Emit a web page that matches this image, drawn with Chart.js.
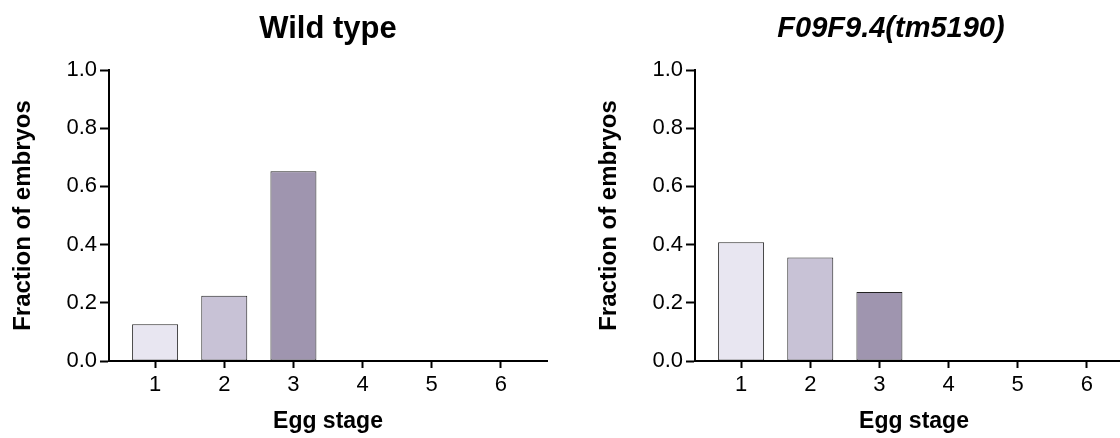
<!DOCTYPE html>
<html>
<head>
<meta charset="utf-8">
<script src="https://cdn.jsdelivr.net/npm/chart.js@4"></script>
<style>
  html, body { margin: 0; padding: 0; background: #fff; overflow: hidden; }
  #wrap { position: relative; width: 1120px; height: 438px; overflow: hidden; }
  canvas { position: absolute; top: 0; }
  #wt { left: 0; }
  #mut { left: 586px; }
</style>
</head>
<body>
<div id="wrap">
  <canvas id="wt" width="656" height="438"></canvas>
  <canvas id="mut" width="610" height="438"></canvas>
</div>
<script>
const stages = [1, 2, 3, 4, 5, 6];
const wildType = [0.126, 0.224, 0.652, 0, 0, 0];
const mutant = [0.408, 0.356, 0.237, 0, 0, 0];
const yTicks = [0, 0.2, 0.4, 0.6, 0.8, 1.0];
const barColors = ["#E8E6F1", "#C8C2D6", "#9F95AF", "#9F95AF", "#9F95AF", "#9F95AF"];

const FONT = "'Liberation Sans', Arial, Helvetica, sans-serif";

// nudge the title sideways (the right panel is cut off by the window edge)
const titleShift = {
  id: "titleShift",
  afterLayout(chart, args, opts) {
    const t = chart.titleBlock;
    if (t && opts.dx) {
      t.left += opts.dx;
      t.right += opts.dx;
    }
  },
};

function makeChart(id, title, italic, titleSize, values, padRight, dx) {
  const padTop = 11 + (31 - titleSize) * 0.5;
  return new Chart(document.getElementById(id), {
    type: "bar",
    data: {
      datasets: [
        {
          data: stages.map((s, i) => ({ x: s, y: values[i] })),
          backgroundColor: barColors,
          borderColor: "#222",
          borderWidth: 1,
          borderSkipped: false,
          categoryPercentage: 1,
          barPercentage: 0.665,
        },
      ],
    },
    plugins: [titleShift],
    options: {
      responsive: false,
      animation: false,
      layout: { padding: { left: 0, right: padRight, top: 0, bottom: 0 } },
      plugins: {
        legend: { display: false },
        tooltip: { enabled: false },
        titleShift: { dx: dx },
        title: {
          display: true,
          fullSize: false,
          text: title,
          color: "#000",
          font: { family: FONT, size: titleSize, weight: "bold", style: italic ? "italic" : "normal" },
          padding: { top: padTop, bottom: 70 - padTop - titleSize * 1.2 },
        },
      },
      scales: {
        x: {
          type: "linear",
          offset: false,
          min: 1 / 3,
          max: 6 + 2 / 3,
          afterBuildTicks: (scale) => {
            scale.ticks = stages.map((v) => ({ value: v }));
          },
          afterFit: (scale) => {
            scale.height = 77;
          },
          ticks: {
            color: "#000",
            font: { family: FONT, size: 22 },
            padding: 4,
            callback: (v) => String(v),
            maxRotation: 0,
          },
          grid: {
            display: true,
            offset: false,
            drawOnChartArea: false,
            drawTicks: true,
            tickLength: 7,
            tickWidth: 2,
            tickColor: "#000",
          },
          border: { display: true, color: "#000", width: 2, z: 1 },
          title: {
            display: true,
            text: "Egg stage",
            color: "#000",
            font: { family: FONT, size: 23, weight: "bold" },
            padding: { top: 0, bottom: 3 },
          },
        },
        y: {
          min: 0,
          max: 1,
          afterBuildTicks: (scale) => {
            scale.ticks = yTicks.map((v) => ({ value: v }));
          },
          afterFit: (scale) => {
            scale.width = 109;
          },
          ticks: {
            color: "#000",
            font: { family: FONT, size: 22 },
            padding: 3,
            callback: (v) => v.toFixed(1),
          },
          grid: {
            display: true,
            drawOnChartArea: false,
            drawTicks: true,
            tickLength: 9,
            tickWidth: 2,
            tickColor: "#000",
          },
          border: { display: true, color: "#000", width: 2, z: 1 },
          title: {
            display: true,
            text: "Fraction of embryos",
            color: "#000",
            font: { family: FONT, size: 24, weight: "bold" },
            padding: { top: 9, bottom: 0 },
          },
        },
      },
    },
  });
}

makeChart("wt", "Wild type", false, 31, wildType, 109, 0);
makeChart("mut", "F09F9.4(tm5190)", true, 29, mutant, 63, -23);
</script>
</body>
</html>
